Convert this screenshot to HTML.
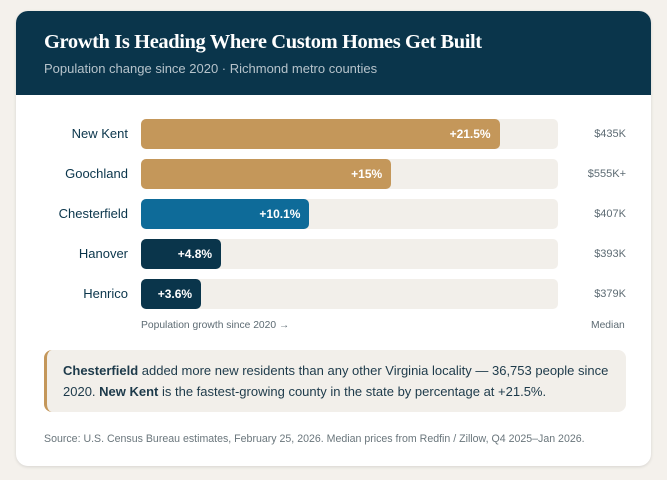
<!DOCTYPE html>
<html><head><meta charset="utf-8"><style>
body{margin:0;width:667px;height:480px;background:#f4f1ec;font-family:"Liberation Sans",sans-serif;position:relative;overflow:hidden}
.card{position:absolute;left:16px;top:11px;width:635px;height:455px;background:#fff;border-radius:12px;overflow:hidden;box-shadow:0 1px 3px rgba(0,0,0,.12)}
.hdr{position:absolute;left:0;top:0;width:635px;height:84px;background:#0a354b}
.title{position:absolute;left:28px;top:20px;color:#fff;font-family:"Liberation Serif",serif;font-size:20.5px;font-weight:bold;letter-spacing:-0.4px}
.sub{position:absolute;left:28px;top:50px;color:#b6c3cb;font-size:13px}
.lbl{position:absolute;width:120px;text-align:right;font-size:13px;color:#0a354b}
.price{position:absolute;width:80px;text-align:right;font-size:11px;color:#5d6b73}
.track{position:absolute;height:30px;background:#f2efea;border-radius:5px}
.bar{position:absolute;height:30px;border-radius:5px;color:#fff;font-size:12px;font-weight:bold;text-align:right;line-height:30px;box-sizing:border-box;padding-right:9px}
.axl{position:absolute;font-size:10.3px;color:#5d6b73}
.note{position:absolute;left:28px;top:339px;width:582px;height:62px;background:#f2efea;border-left:3px solid #c4975a;border-radius:8px;box-sizing:border-box;padding:10px 16px;font-size:13px;line-height:21px;color:#1d3a4a}
.src{position:absolute;left:28px;top:422px;font-size:10.6px;color:#6a767c}
</style></head><body>
<div class="card">
<div class="hdr">
<div class="title">Growth Is Heading Where Custom Homes Get Built</div>
<div class="sub">Population change since 2020 · Richmond metro counties</div>
</div>
<div id="rows"></div>
<div class="axl" style="left:125px;top:309px">Population growth since 2020 →</div>
<div class="axl" style="left:575px;top:309px">Median</div>
<div class="note"><b>Chesterfield</b> added more new residents than any other Virginia locality — 36,753 people since 2020. <b>New Kent</b> is the fastest-growing county in the state by percentage at +21.5%.</div>
<div class="src">Source: U.S. Census Bureau estimates, February 25, 2026. Median prices from Redfin / Zillow, Q4 2025–Jan 2026.</div>
</div>
<script>
const categories=["New Kent","Goochland","Chesterfield","Hanover","Henrico"];
const growth=[21.5,15,10.1,4.8,3.6];
const valueLabels=["+21.5%","+15%","+10.1%","+4.8%","+3.6%"];
const prices=["$435K","$555K+","$407K","$393K","$379K"];
const colors=["#c4975a","#c4975a","#0e6b99","#0a354b","#0a354b"];
const xMax=25;
const x0=125,trackW=417;
function xs(v){return v/xMax*trackW;}
function ys(i){return 108+i*40;}
const rows=document.getElementById('rows');
categories.forEach((c,i)=>{
 const y=ys(i);
 const l=document.createElement('div');l.className='lbl';l.style.left='-8px';l.style.top=(y+7)+'px';l.textContent=c;
 
 
 rows.appendChild(l);
 const t=document.createElement('div');t.className='track';t.style.left=x0+'px';t.style.top=y+'px';t.style.width=trackW+'px';
 
 
 rows.appendChild(t);
 const b=document.createElement('div');b.className='bar';b.style.left=x0+'px';b.style.top=y+'px';b.style.width=xs(growth[i])+'px';b.style.background=colors[i];b.textContent=valueLabels[i];
 
 
 rows.appendChild(b);
 const p=document.createElement('div');p.className='price';p.style.left='530px';p.style.top=(y+9)+'px';p.textContent=prices[i];
 
 
 rows.appendChild(p);
});
</script>
</body></html>
